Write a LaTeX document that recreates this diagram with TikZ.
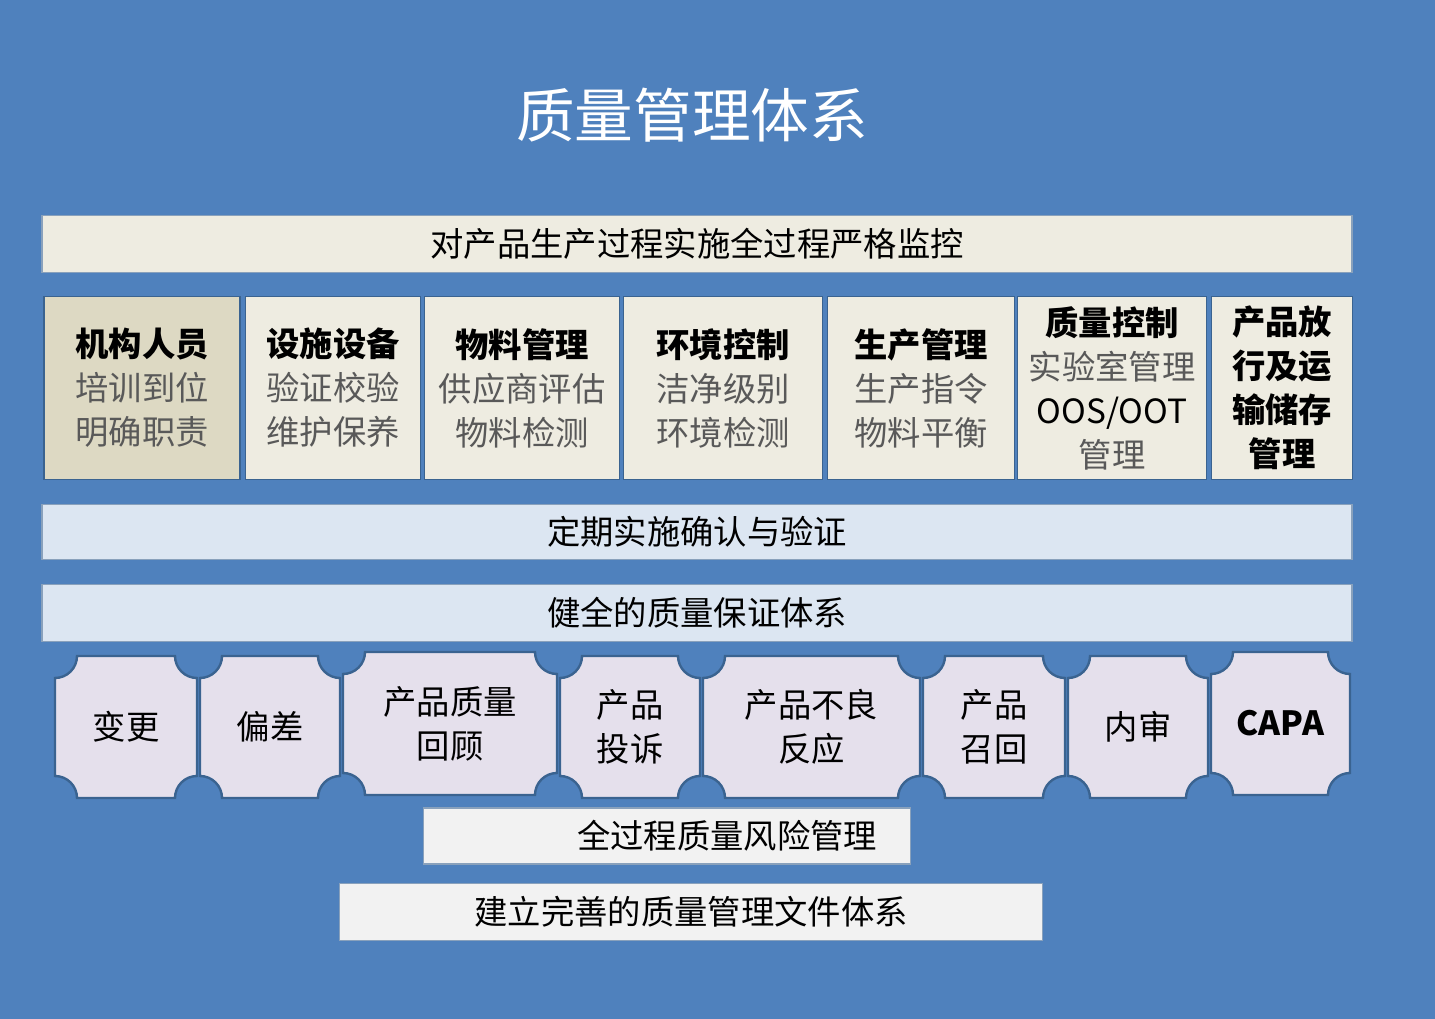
\documentclass[tikz,border=0pt]{standalone}
\usepackage{fontspec}
\setmainfont{Noto Sans CJK SC}
\usetikzlibrary{positioning}
\definecolor{bgblue}{HTML}{4F81BD}
\definecolor{cream}{HTML}{EEECE1}
\definecolor{tan}{HTML}{DDD9C3}
\definecolor{paleblue}{HTML}{DCE6F2}
\definecolor{lavender}{HTML}{E5E0EC}
\definecolor{lightgray}{HTML}{F2F2F2}
\definecolor{edgeblue}{HTML}{3A6390}
\definecolor{subgray}{HTML}{595959}
% 凹角牌子: 名称, x1, y1, x2, y2, 文字
\newcommand\plaque[6]{%
  \draw[plaqueline] (#2+22,#3) -- (#4-22,#3)
    arc[start angle=180,end angle=90,radius=22] -- (#4,#5-22)
    arc[start angle=270,end angle=180,radius=22] -- (#2+22,#5)
    arc[start angle=0,end angle=-90,radius=22] -- (#2,#3+22)
    arc[start angle=90,end angle=0,radius=22] -- cycle;
  \node[plaquetext] (#1) at ({(#2+#4)/2},{(#3+#5)/2}) {#6};}
\begin{document}
\begin{tikzpicture}[
    x=0.75pt, y=-0.75pt,
    bar/.style={draw=edgeblue!60, line width=0.8pt, font=\fontsize{25}{28}\selectfont, inner sep=0pt},
    colbox/.style={draw=edgeblue, line width=1pt, fill=cream, align=center, inner sep=0pt,
        font=\fontsize{25}{33}\selectfont},
    plaqueline/.style={draw=edgeblue, line width=1.8pt, fill=lavender},
    plaquetext/.style={align=center, font=\fontsize{25}{33}\selectfont}
  ]
  \fill[bgblue] (0,0) rectangle (1435,1019);
  \node[text=white, font=\fontsize{44}{50}\selectfont] (title) at (692,115) {质量管理体系};

  % 顶部横条
  \node[bar, fill=cream, minimum width=1310*0.75pt, minimum height=57*0.75pt] (monitor)
    at (697,244) {对产品生产过程实施全过程严格监控};

  % 七个栏目
  \node[colbox, fill=tan, minimum width=196*0.75pt, minimum height=183*0.75pt] (staff) at (142,388)
    {\textbf{机构人员}\\\color{subgray}培训到位\\\color{subgray}明确职责};
  \node[colbox, minimum width=175*0.75pt, minimum height=183*0.75pt] (facility) at (333,388)
    {\textbf{设施设备}\\\color{subgray}验证校验\\\color{subgray}维护保养};
  \node[colbox, minimum width=195*0.75pt, minimum height=183*0.75pt] (material) at (522,388)
    {\textbf{物料管理}\\\color{subgray}供应商评估\\\color{subgray}物料检测};
  \node[colbox, minimum width=199*0.75pt, minimum height=183*0.75pt] (environ) at (723,388)
    {\textbf{环境控制}\\\color{subgray}洁净级别\\\color{subgray}环境检测};
  \node[colbox, minimum width=187*0.75pt, minimum height=183*0.75pt] (produce) at (921,388)
    {\textbf{生产管理}\\\color{subgray}生产指令\\\color{subgray}物料平衡};
  \node[colbox, minimum width=189*0.75pt, minimum height=183*0.75pt] (qc) at (1112,388)
    {\textbf{质量控制}\\\color{subgray}实验室管理\\OOS/OOT\\\color{subgray}管理};
  \node[colbox, minimum width=141*0.75pt, minimum height=183*0.75pt] (release) at (1282,388)
    {\textbf{产品放}\\\textbf{行及运}\\\textbf{输储存}\\\textbf{管理}};

  % 中部横条
  \node[bar, fill=paleblue, minimum width=1310*0.75pt, minimum height=55*0.75pt] (verify)
    at (697,532) {定期实施确认与验证};
  \node[bar, fill=paleblue, minimum width=1310*0.75pt, minimum height=57*0.75pt] (qa)
    at (697,613) {健全的质量保证体系};

  % 质量保证要素
  \plaque{change}{55}{656}{197}{798}{变更}
  \plaque{deviation}{200}{656}{340}{798}{偏差}
  \plaque{review}{343}{652}{557}{795}{产品质量\\回顾}
  \plaque{complaint}{560}{656}{700}{798}{产品\\投诉}
  \plaque{adverse}{703}{656}{920}{798}{产品不良\\反应}
  \plaque{recall}{923}{656}{1065}{798}{产品\\召回}
  \plaque{audit}{1068}{656}{1208}{798}{内审}
  \plaque{capa}{1211}{652}{1350}{795}{\textbf{CAPA}}

  % 底部横条
  \node[bar, fill=lightgray, minimum width=487*0.75pt, minimum height=56*0.75pt] (risk)
    at (667,836) {\hspace*{3.6em}全过程质量风险管理};
  \node[bar, fill=lightgray, minimum width=703*0.75pt, minimum height=57*0.75pt] (docs)
    at (691,912) {建立完善的质量管理文件体系};
\end{tikzpicture}
\end{document}
